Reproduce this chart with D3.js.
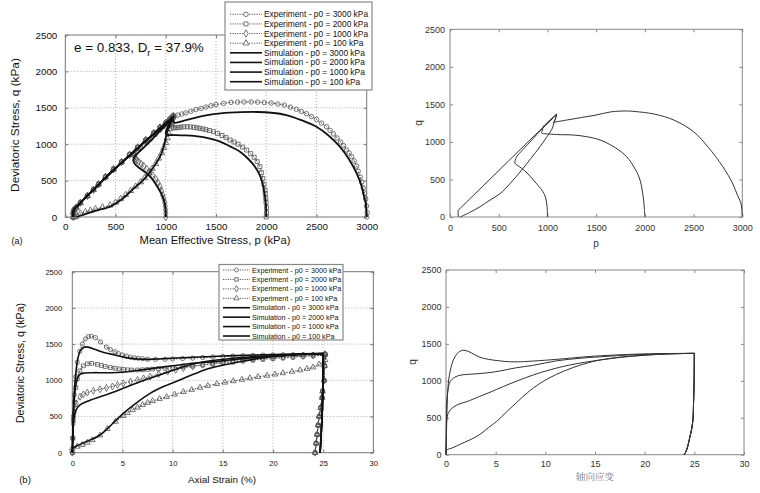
<!DOCTYPE html>
<html><head><meta charset="utf-8">
<script src="https://cdn.jsdelivr.net/npm/d3@7"></script>
<style>body{margin:0;background:#fff} svg{display:block}</style>
</head><body>
<svg id="c" width="760" height="493"></svg>
<script>
// ---------- tick labels ----------
const pTicks = [0, 500, 1000, 1500, 2000, 2500, 3000];
const qTicks = [0, 500, 1000, 1500, 2000, 2500];
const strainTicks = [0, 5, 10, 15, 20, 25, 30];

const legendLabels = [
  "Experiment - p0 = 3000 kPa", "Experiment - p0 = 2000 kPa",
  "Experiment - p0 = 1000 kPa", "Experiment - p0 = 100 kPa",
  "Simulation - p0 = 3000 kPa", "Simulation - p0 = 2000 kPa",
  "Simulation - p0 = 1000 kPa", "Simulation - p0 = 100 kPa"
];

// ---------- (a) p-q : experiment ----------
const expPQ3000 = [[3000,0],[3005,60],[2998,150],[2990,250],[2978,330],[2966,400],[2950,480],[2935,550],[2915,630],[2900,700],[2875,770],[2850,830],[2825,880],[2800,920],[2770,980],[2740,1030],[2705,1085],[2670,1140],[2635,1190],[2600,1240],[2550,1290],[2500,1340],[2450,1380],[2400,1420],[2350,1450],[2300,1480],[2240,1510],[2180,1538],[2115,1553],[2050,1565],[1980,1572],[1914,1578],[1850,1580],[1780,1580],[1715,1578],[1650,1575],[1575,1560],[1500,1545],[1450,1528],[1400,1510],[1350,1492],[1300,1475],[1250,1452],[1200,1430],[1160,1415],[1120,1400],[1075,1385]];
const expPQ2000 = [[2000,0],[2003,60],[2003,130],[1998,200],[1995,260],[1990,320],[1988,371],[1978,450],[1965,530],[1952,610],[1937,691],[1910,760],[1880,820],[1845,870],[1805,920],[1765,960],[1720,1000],[1680,1030],[1640,1058],[1600,1090],[1560,1120],[1515,1148],[1474,1172],[1435,1188],[1400,1200],[1370,1210],[1340,1218],[1310,1226],[1280,1232],[1245,1238],[1213,1240],[1180,1238],[1150,1235],[1125,1230],[1100,1225],[1075,1226],[1060,1250],[1062,1300],[1068,1340],[1075,1380]];
const expPQ1000 = [[1000,0],[1000,50],[998,100],[995,150],[990,200],[982,250],[970,300],[958,360],[943,416],[922,470],[900,520],[870,570],[840,620],[810,660],[780,700],[755,730],[730,760],[712,780],[700,800],[692,825],[690,850],[698,875],[710,900],[745,945],[780,990],[820,1040],[860,1090],[905,1150],[950,1210],[985,1260],[1020,1310],[1040,1340],[1060,1370]];
const expPQ100 = [[100,0],[110,30],[150,50],[200,70],[250,90],[300,110],[370,135],[445,160],[500,200],[550,250],[600,305],[650,360],[700,420],[750,480],[790,540],[830,600],[865,665],[900,730],[930,805],[960,880],[980,950],[1000,1020],[1015,1085],[1030,1150],[1040,1210],[1050,1270],[1060,1320],[1070,1370]];
const expUnloadPQ = [[1075,1385],[1040,1340],[1000,1290],[943,1230],[880,1150],[800,1055],[720,955],[640,855],[560,755],[480,655],[400,550],[330,450],[280,375],[220,290],[150,195],[110,130],[88,100],[80,60],[80,0]];

// ---------- (a) p-q : simulation ----------
const simPQ3000 = [[3000,0],[2995,100],[2990,188],[2970,300],[2950,420],[2900,600],[2820,800],[2733,966],[2620,1120],[2500,1240],[2350,1330],[2200,1401],[2050,1432],[1914,1442],[1750,1440],[1547,1424],[1400,1395],[1300,1365],[1200,1330],[1120,1300],[1085,1295],[1070,1330],[1075,1380]];
const simPQ2000 = [[2000,0],[1997,150],[1985,300],[1971,416],[1940,560],[1888,691],[1820,800],[1739,897],[1640,970],[1540,1035],[1440,1075],[1340,1103],[1200,1120],[1075,1126],[1020,1128],[1000,1150],[1020,1240],[1050,1310],[1075,1380]];
const simPQ1000 = [[1000,0],[997,120],[980,240],[955,320],[910,430],[860,530],[800,610],[740,670],[700,715],[680,755],[677,790],[690,830],[740,900],[830,1020],[920,1150],[1000,1260],[1050,1335],[1075,1380]];
const simPQ100 = [[113,0],[200,40],[300,85],[445,141],[560,240],[680,390],[776,508],[860,650],[943,828],[985,990],[1009,1150],[1040,1265],[1059,1332],[1075,1380]];
const simUnloadPQ = [[1075,1380],[1000,1285],[900,1165],[800,1045],[700,920],[600,795],[500,670],[400,540],[300,400],[200,265],[120,150],[85,100],[80,0]];

// ---------- (b) axial strain - q : experiment ----------
const expEQ3000 = [[0,0],[0.05,200],[0.1,500],[0.2,800],[0.35,1050],[0.5,1250],[0.75,1400],[1.0,1500],[1.3,1570],[1.6,1602],[1.9,1610],[2.3,1590],[2.8,1530],[3.4,1460],[3.8,1425],[4.26,1395],[4.6,1370],[5.0,1350],[5.4,1335],[5.8,1320],[6.2,1310],[6.58,1304],[7.0,1298],[7.5,1292],[8.3,1290],[9.24,1290],[10,1294],[11,1300],[12,1307],[13,1315],[14,1322],[15,1330],[16,1335],[17,1340],[18,1344],[19,1348],[20,1350],[21,1352],[22,1354],[23,1356],[24,1358],[25.2,1360]];
const expEQ2000 = [[0,0],[0.05,200],[0.1,450],[0.2,700],[0.35,900],[0.5,1020],[0.75,1130],[1.1,1200],[1.5,1228],[1.93,1234],[2.5,1220],[2.9,1205],[3.3,1190],[3.8,1176],[4.26,1166],[4.7,1157],[5.1,1150],[5.5,1145],[5.92,1142],[6.5,1143],[7,1145],[7.5,1150],[8,1155],[8.6,1160],[9.24,1166],[10,1175],[11,1185],[12,1197],[13,1210],[14,1225],[15,1240],[16,1252],[17,1265],[18,1278],[19,1290],[20,1300],[21,1310],[22,1320],[23,1330],[24,1340],[25.2,1350]];
const expEQ1000 = [[0,0],[0.05,200],[0.1,400],[0.2,560],[0.4,680],[0.77,773],[1.1,805],[1.5,830],[2.1,855],[2.76,875],[3.4,895],[4,915],[4.5,935],[5.08,958],[5.8,982],[6.5,1005],[7.1,1027],[7.75,1050],[8.6,1085],[9.5,1120],[10.3,1145],[11.07,1170],[12,1192],[13,1215],[14,1235],[15,1255],[16,1270],[17,1285],[18,1295],[19,1305],[20,1313],[21,1320],[22,1328],[23,1335],[24,1342],[25.2,1350]];
const expEQ100 = [[0,60],[0.5,85],[1,110],[1.5,140],[2,175],[2.76,240],[3.5,330],[4.3,430],[5.08,510],[5.5,550],[6,590],[6.5,625],[7,660],[7.5,690],[8,715],[8.7,745],[9.4,770],[10.2,805],[11.07,840],[11.9,870],[12.73,900],[13.5,925],[14.4,950],[15.2,970],[16.05,990],[16.9,1010],[17.7,1030],[18.5,1048],[19.4,1065],[20.2,1082],[21,1100],[21.9,1120],[22.7,1140],[23.4,1160],[24,1180],[24.6,1220],[25.2,1280]];
const expUnloadEQ = [[25.2,1360],[25.15,1200],[25.1,1000],[24.95,850],[24.9,760],[24.75,620],[24.6,500],[24.5,380],[24.4,250],[24.3,130],[24.2,0]];

// ---------- (b) axial strain - q : simulation ----------
const simEQ3000 = [[0,0],[0.05,250],[0.1,550],[0.2,850],[0.35,1100],[0.55,1300],[0.8,1410],[1.1,1450],[1.36,1462],[1.7,1455],[2.2,1430],[3,1390],[4.26,1349],[5.5,1310],[6.92,1290],[8.5,1295],[9.8,1304],[12,1318],[15,1335],[18,1350],[21,1360],[25,1370]];
const simEQ2000 = [[0,0],[0.05,250],[0.1,500],[0.2,750],[0.35,930],[0.55,1040],[0.8,1085],[1.2,1100],[2,1105],[3,1105],[4,1105],[5,1112],[6.5,1135],[8,1165],[10,1200],[12,1235],[14.4,1262],[17,1300],[20,1335],[22.5,1355],[25,1370]];
const simEQ1000 = [[0,0],[0.05,200],[0.1,380],[0.2,500],[0.4,600],[0.77,659],[1.5,710],[2.76,773],[4,830],[5.08,889],[6.5,965],[7.75,1027],[9.5,1110],[11.07,1188],[12.5,1240],[14.4,1280],[17,1315],[20,1340],[22.5,1358],[25,1370]];
const simEQ100 = [[0,60],[0.5,100],[1.5,160],[2.76,244],[4,400],[5.08,544],[6.5,700],[7.75,820],[9.2,920],[10.7,1004],[12.2,1090],[13.7,1166],[15.2,1215],[16.7,1257],[19,1310],[22,1350],[25,1370]];
const simUnloadEQ = [[25,1370],[24.98,1000],[24.92,600],[24.82,300],[24.7,0]];

// ---------- right panels : simulation only ----------
const simR_PQ3000 = [[3000,0],[2995,100],[2985,190],[2950,290],[2900,450],[2800,670],[2650,930],[2500,1136],[2300,1290],[2100,1370],[1900,1405],[1813,1412],[1650,1400],[1500,1358],[1350,1325],[1200,1292],[1100,1270],[1060,1262],[1078,1292],[1095,1370]];
const simR_PQ2000 = [[2000,0],[1995,100],[1985,250],[1950,493],[1900,640],[1813,803],[1700,920],[1540,1026],[1400,1070],[1266,1092],[1095,1098],[1026,1105],[960,1110],[941,1116],[950,1160],[957,1203],[1000,1260],[1050,1320],[1095,1370]];
const simR_PQ1000 = [[1000,0],[998,100],[990,200],[970,300],[930,380],[855,493],[800,575],[736,648],[690,690],[667,715],[670,760],[684,803],[750,900],[850,1040],[950,1180],[1030,1280],[1095,1370]];
const simR_PQ100 = [[103,0],[200,60],[300,130],[411,226],[513,310],[620,450],[736,626],[830,780],[924,937],[990,1060],[1044,1165],[1070,1260],[1095,1370]];
const simR_UnloadPQ = [[1095,1370],[1000,1250],[800,1000],[600,745],[400,490],[200,237],[100,110],[86,93],[86,0]];

const simR_EQ3000 = [[0,0],[0.05,300],[0.1,600],[0.23,966],[0.5,1180],[0.74,1282],[1.07,1360],[1.4,1400],[1.8,1414],[2.3,1395],[3.4,1320],[4.3,1290],[5.3,1272],[6.4,1258],[7.5,1258],[8.8,1268],[11.1,1290],[14.5,1330],[18.9,1360],[22,1369],[25,1372]];
const simR_EQ2000 = [[0,0],[0.03,300],[0.07,700],[0.2,870],[0.4,985],[0.9,1050],[1.5,1078],[2.5,1090],[3.4,1098],[4.43,1112],[5.5,1135],[7.0,1175],[8.8,1210],[11.1,1270],[13.5,1305],[15.5,1325],[18.9,1352],[22,1366],[25,1372]];
const simR_EQ1000 = [[0,0],[0.03,200],[0.07,460],[0.25,570],[0.7,640],[1.4,690],[2.08,717],[3.4,790],[4.43,845],[5.8,925],[7.1,995],[8.8,1080],[10.5,1150],[12.5,1215],[15.5,1282],[18.9,1336],[22,1362],[25,1372]];
const simR_EQ100 = [[0,30],[0.07,63],[0.7,95],[1.41,140],[2.4,200],[3.42,275],[4.3,370],[5.1,450],[6.1,580],[7.1,705],[8.2,840],[9.46,966],[11.0,1080],[12.8,1180],[14.2,1240],[15.5,1282],[17.2,1315],[18.9,1336],[22,1362],[25,1372]];
const simR_UnloadEQ = [[25,1372],[24.98,1000],[24.92,700],[24.88,514],[24.75,360],[24.56,244],[24.35,120],[24.15,40],[23.96,0]];

// ================= drawing =================
const svg = d3.select("#c");
const FONT = "'Liberation Sans', Arial, Helvetica, sans-serif";
const symbols = [d3.symbolCircle, d3.symbolSquare, d3.symbolDiamond, d3.symbolTriangle];
const fmt = d3.format("d");

function panel(box, xDom, yDom, xt, yt, o) {
  const x = d3.scaleLinear().domain(xDom).range([box.l, box.r]);
  const y = d3.scaleLinear().domain(yDom).range([box.b, box.t]);
  const g = svg.append("g");
  if (o.grid) {
    g.selectAll(".gx").data(xt.slice(1, -1)).join("line")
      .attr("x1", d => x(d)).attr("x2", d => x(d)).attr("y1", box.t).attr("y2", box.b)
      .attr("stroke", "#999").attr("stroke-width", 0.8).attr("stroke-dasharray", "1,2");
    g.selectAll(".gy").data(yt.slice(1, -1)).join("line")
      .attr("y1", d => y(d)).attr("y2", d => y(d)).attr("x1", box.l).attr("x2", box.r)
      .attr("stroke", "#999").attr("stroke-width", 0.8).attr("stroke-dasharray", "1,2");
  }
  const ax = (gen, tx, ty, pad, size, show) => {
    const a = g.append("g").attr("transform", `translate(${tx},${ty})`)
      .call(gen.tickValues(show).tickFormat(fmt).tickSize(-3).tickPadding(pad));
    a.select(".domain").remove();
    a.selectAll(".tick line").attr("stroke", o.frame);
    a.selectAll("text").attr("font-family", FONT).attr("font-size", size).attr("fill", o.tickColor);
    return a;
  };
  ax(d3.axisBottom(x), 0, box.b, o.xpad, o.tickSize, xt);
  ax(d3.axisLeft(y), box.l, 0, o.ypad, o.tickSize, yt);
  const top = ax(d3.axisTop(x), 0, box.t, 0, 0, xt); top.selectAll("text").remove();
  const rt = ax(d3.axisRight(y), box.r, 0, 0, 0, yt); rt.selectAll("text").remove();
  g.append("rect").attr("x", box.l).attr("y", box.t).attr("width", box.r - box.l).attr("height", box.b - box.t)
    .attr("fill", "none").attr("stroke", o.frame).attr("stroke-width", o.frameW);
  return {x, y, g};
}

function drawLine(P, data, stroke, width, dash) {
  const line = d3.line().x(d => P.x(d[0])).y(d => P.y(d[1])).curve(d3.curveCatmullRom.alpha(0.5));
  P.g.append("path").datum(data).attr("d", line).attr("fill", "none")
    .attr("stroke", stroke).attr("stroke-width", width).attr("stroke-dasharray", dash || null)
    .attr("stroke-linejoin", "round");
}
function drawMarkers(P, data, sym, size) {
  P.g.append("g").selectAll("path").data(data).join("path")
    .attr("transform", d => `translate(${P.x(d[0])},${P.y(d[1])})`)
    .attr("d", d3.symbol().type(sym).size(size))
    .attr("fill", "none").attr("stroke", "#555").attr("stroke-width", 0.8);
}
function legend(bx, rowY0, step, x1, x2, tx, fs, msize) {
  const g = svg.append("g");
  g.append("rect").attr("x", bx.l).attr("y", bx.t).attr("width", bx.r - bx.l).attr("height", bx.b - bx.t)
    .attr("fill", "#fff").attr("stroke", "#888").attr("stroke-width", 1.2);
  legendLabels.forEach((lab, i) => {
    const yy = rowY0 + i * step;
    const exp = i < 4;
    g.append("line").attr("x1", x1).attr("x2", x2).attr("y1", yy).attr("y2", yy)
      .attr("stroke", exp ? "#444" : "#111").attr("stroke-width", exp ? 0.9 : 1.6)
      .attr("stroke-dasharray", exp ? "1.2,1.2" : null);
    if (exp) g.append("path").attr("transform", `translate(${(x1 + x2) / 2},${yy})`)
      .attr("d", d3.symbol().type(symbols[i]).size(msize)).attr("fill", "#fff").attr("stroke", "#555").attr("stroke-width", 0.8);
    g.append("text").attr("x", tx).attr("y", yy).attr("dy", "0.35em").text(lab)
      .attr("font-family", FONT).attr("font-size", fs).attr("fill", "#111");
  });
}
function label(x, y, txt, size, color, rot, family) {
  svg.append("text").attr("transform", `translate(${x},${y}) rotate(${rot || 0})`)
    .attr("text-anchor", "middle").attr("dy", "0.35em").attr("font-family", family || FONT)
    .attr("font-size", size).attr("fill", color).text(txt);
}

// ---- panel (a) ----
const A = panel({l: 65.3, r: 366.7, t: 35, b: 217}, [0, 3000], [0, 2500], pTicks, qTicks,
  {grid: true, frame: "#777", frameW: 1, tickColor: "#111", tickSize: 9.8, xpad: 6.5, ypad: 8});
const expA = [expPQ3000, expPQ2000, expPQ1000, expPQ100];
const simA = [simPQ3000, simPQ2000, simPQ1000, simPQ100];
expA.forEach(d => drawLine(A, d.concat(expUnloadPQ), "#444", 1, "1.5,1.5"));
expA.forEach((d, i) => drawMarkers(A, d.concat(expUnloadPQ), symbols[i], 16));
simA.forEach(d => drawLine(A, d.concat(simUnloadPQ), "#111", 1.8));
legend({l: 225, r: 372, t: 2, b: 90}, 14.3, 9.63, 230, 262, 264, 8.4, 16);
label(15, 125, "Deviatoric Stress, q (kPa)", 11.8, "#111", -90);
label(215, 240.5, "Mean Effective Stress, p (kPa)", 11.2, "#111");
label(17, 240.5, "(a)", 9, "#111");
const ann = svg.append("text").attr("x", 74).attr("y", 52).attr("font-family", FONT).attr("font-size", 13.4).attr("fill", "#111");
ann.append("tspan").text("e = 0.833, D");
ann.append("tspan").attr("dy", 4).attr("font-size", 9.5).text("r");
ann.append("tspan").attr("dy", -4).text(" = 37.9%");

// ---- panel (b) ----
const B = panel({l: 72.3, r: 373.3, t: 271.7, b: 452.7}, [0, 30], [0, 2500], strainTicks, qTicks,
  {grid: true, frame: "#777", frameW: 1, tickColor: "#111", tickSize: 7.6, xpad: 7.5, ypad: 10});
const expB = [expEQ3000, expEQ2000, expEQ1000, expEQ100];
const simB = [simEQ3000, simEQ2000, simEQ1000, simEQ100];
expB.forEach(d => drawLine(B, d.concat(expUnloadEQ), "#444", 1, "1.5,1.5"));
expB.forEach((d, i) => drawMarkers(B, d.concat(expUnloadEQ), symbols[i], 14));
simB.forEach(d => drawLine(B, d.concat(simUnloadEQ), "#111", 1.6));
legend({l: 219, r: 343, t: 264.5, b: 340}, 270, 9.43, 223, 250, 252, 7.2, 12);
label(20, 363, "Deviatoric Stress, q (kPa)", 10.6, "#111", -90);
label(222, 480, "Axial Strain (%)", 9.9, "#111");
label(25, 480, "(b)", 9.5, "#111");

// ---- right top ----
const C = panel({l: 450, r: 742.3, t: 29.3, b: 217}, [0, 3000], [0, 2500], pTicks, qTicks,
  {grid: false, frame: "#888", frameW: 1, tickColor: "#333", tickSize: 9, xpad: 7.5, ypad: 5});
[simR_PQ3000, simR_PQ2000, simR_PQ1000, simR_PQ100, simR_UnloadPQ].forEach(d => drawLine(C, d, "#333", 1));
label(418, 123, "q", 10, "#333", -90);
label(596, 243, "p", 10, "#333");

// ---- right bottom ----
const D = panel({l: 446, r: 744, t: 270, b: 454.7}, [0, 30], [0, 2500], strainTicks, qTicks,
  {grid: false, frame: "#888", frameW: 1, tickColor: "#333", tickSize: 9, xpad: 5.5, ypad: 4.5});
[simR_EQ3000, simR_EQ2000, simR_EQ1000, simR_EQ100].forEach(d => drawLine(D, d.concat(simR_UnloadEQ), "#333", 1));
label(412, 362, "q", 10, "#333", -90);
label(595, 477, "轴向应变", 9.6, "#777", 0, "'Noto Serif CJK SC', 'Noto Sans CJK SC', serif");
</script></body></html>
